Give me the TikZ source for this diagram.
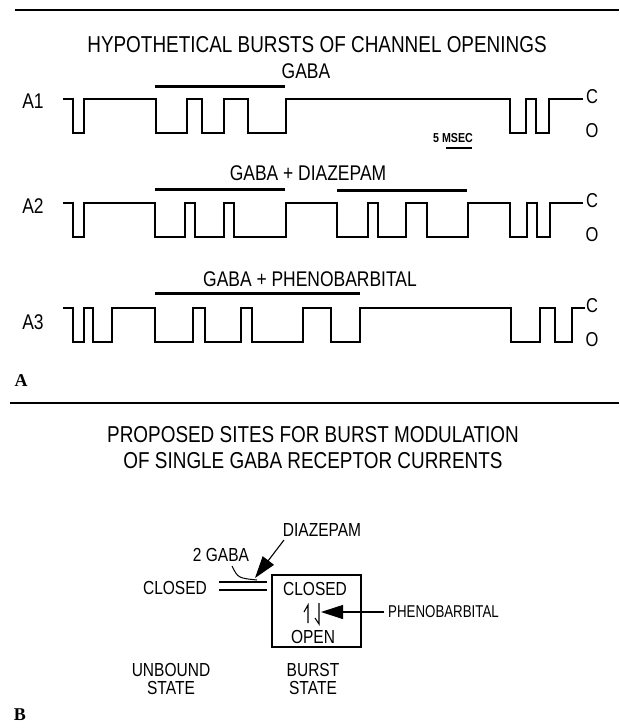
\documentclass[tikz,border=0pt]{standalone}
\usepackage{fontspec}
\newfontfamily\plotfont{Liberation Sans}
\newfontfamily\panelfont{Liberation Serif}
\usetikzlibrary{arrows.meta}
\newcommand\tallt[1]{\scalebox{0.97}[1.18]{#1}}
\tikzset{
  trace/.style={line width=1.1pt, line join=miter},
  bar/.style={line width=3pt},
  rule/.style={line width=1.4pt},
  ttl/.style={font=\plotfont\fontsize{19.5}{23}\selectfont, inner sep=0pt},
  lbl/.style={font=\plotfont\fontsize{18}{20}\selectfont, inner sep=0pt},
  slbl/.style={font=\plotfont\fontsize{16}{17}\selectfont, inner sep=0pt},
  co/.style={font=\plotfont\fontsize{17}{18}\selectfont, inner sep=0pt},
  panel/.style={font=\panelfont\bfseries\fontsize{18}{20}\selectfont, inner sep=0pt},
  bigarrow/.style={line width=1.1pt, -{Triangle[length=22pt,width=14pt]}},
}
\begin{document}
\begin{tikzpicture}[x=1pt,y=-1pt]
\useasboundingbox (0,0) rectangle (619,728);
% rules
\draw[rule] (15,10) -- (619,10);
\draw[rule] (10,403) -- (619,403);
% titles
\node[ttl] (t1) at (317,45) {\tallt{HYPOTHETICAL BURSTS OF CHANNEL OPENINGS}};
\node[ttl] (t2) at (313,435) {\tallt{PROPOSED SITES FOR BURST MODULATION}};
\node[ttl] (t3) at (313,461) {\tallt{OF SINGLE GABA RECEPTOR CURRENTS}};
% trace labels
\node[lbl] (la1) at (33,101) {\tallt{A1}};
\node[lbl] (la2) at (33,206) {\tallt{A2}};
\node[lbl] (la3) at (33,322) {\tallt{A3}};
\foreach \r/\yc/\yo in {1/97/131, 2/201/235, 3/306/340}{
  \node[co] (c\r) at (592,\yc) {\tallt{C}};
  \node[co] (o\r) at (592,\yo) {\tallt{O}};
}
% condition labels
\node[lbl] (g1) at (306,71) {\tallt{GABA}};
\node[lbl] (g2) at (308,173) {\tallt{GABA + DIAZEPAM}};
\node[lbl] (g3) at (310,279) {\tallt{GABA + PHENOBARBITAL}};
% bars
\draw[bar] (155,86) -- (285,86);
\draw[bar] (155,189) -- (285,189);
\draw[bar] (337,190) -- (467,190);
\draw[bar] (155,293) -- (360,293);
% scale
\node[font=\plotfont\bfseries\fontsize{11}{13}\selectfont, inner sep=0pt] (sc) at (453,138) {\tallt{5 MSEC}};
\draw[line width=1.4pt] (446,148) -- (472,148);
% traces
\draw[trace] (63,99) -| (73,133) -| (84,99) -| (156,133) -| (187,99) -| (202,133) -| (224,99) -| (248,133) -| (286,99) -| (510,133) -| (526,99) -| (536,133) -| (549,99) -- (583,99);
\draw[trace] (63,203) -| (73,237) -| (84,203) -| (155,237) -| (185,203) -| (195,237) -| (224,203) -| (234,237) -| (286,203) -| (337,237) -| (368,203) -| (378,237) -| (406,203) -| (427,237) -| (468,203) -| (510,237) -| (527,203) -| (537,237) -| (550,203) -- (583,203);
\draw[trace] (63,308) -| (73,342) -| (84,308) -| (93,342) -| (112,308) -| (155,342) -| (193,308) -| (205,342) -| (241,308) -| (252,342) -| (303,308) -| (331,342) -| (360,308) -| (511,342) -| (540,308) -| (555,342) -| (572,308) -- (585,308);
% panel labels
\node[panel] (pa) at (21,381) {A};
\node[panel] (pb) at (20,715) {B};
% part B scheme
\node[slbl] (closedL) at (175,588) {\tallt{CLOSED}};
\node[draw, line width=1.1pt, minimum width=89pt, minimum height=72pt, inner sep=0pt] (box) at (316.5,611) {};
\node[slbl] (closedB) at (315,589) {\tallt{CLOSED}};
\node[slbl] (open) at (313,637) {\tallt{OPEN}};
\node[slbl] (gaba2) at (221,555) {\tallt{2 GABA}};
\node[slbl] (diaz) at (322,530) {\tallt{DIAZEPAM}};
\node[font=\plotfont\fontsize{14}{16}\selectfont, inner sep=0pt, anchor=west] (pheno) at (388,612) {\scalebox{0.95}[1.22]{PHENOBARBITAL}};
\node[slbl] (unb1) at (171,670) {\tallt{UNBOUND}};
\node[slbl] (unb2) at (171,688) {\tallt{STATE}};
\node[slbl] (bst1) at (313,670) {\tallt{BURST}};
\node[slbl] (bst2) at (313,688) {\tallt{STATE}};
% equilibrium double line
\coordinate (eqa) at (219,582);
\coordinate (eqb) at (219,590);
\draw[line width=1.1pt] (eqa) -- ++(48,0);
\draw[line width=1.1pt] (eqb) -- ++(48,0);
% 2 GABA curve
\coordinate (gc) at (257,580);
\draw[line width=1pt] (232,566) .. controls (238,578) .. (gc);
% diazepam arrow
\coordinate (dtip) at (255,578);
\draw[bigarrow] (284,540) -- (dtip);
% harpoons
\draw[line width=1.1pt] (308,623) -- (308,605) -- (304,612);
\draw[line width=1.1pt] (319,603) -- (319,624) -- (315,618);
% phenobarbital arrow
\coordinate (ptip) at (321,612);
\draw[bigarrow] (pheno.west) ++(-4,0) -- (ptip);
\end{tikzpicture}
\end{document}
